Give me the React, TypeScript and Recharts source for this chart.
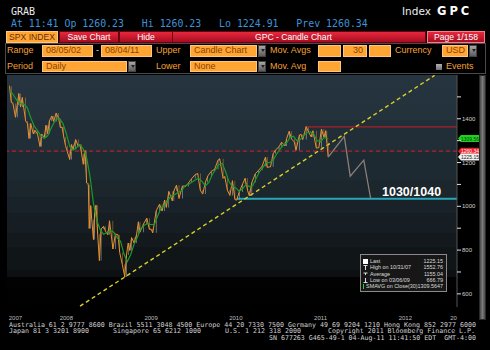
import React from 'react';
import { ComposedChart, Bar, Line, XAxis, YAxis, ReferenceLine, CartesianGrid, Cell } from 'recharts';

// ---- data (SPX) ----
const dates = [
  2007.83, 2007.85, 2007.87, 2007.9, 2007.92, 2007.94, 2007.96, 2007.98,
  2008.02, 2008.04, 2008.06, 2008.08, 2008.11, 2008.13, 2008.16, 2008.19, 2008.21, 2008.24, 2008.26, 2008.28,
  2008.3, 2008.33, 2008.35, 2008.38, 2008.41, 2008.43, 2008.45, 2008.47, 2008.49, 2008.51, 2008.54, 2008.56,
  2008.58, 2008.61, 2008.64, 2008.66, 2008.68, 2008.7, 2008.72, 2008.74, 2008.76, 2008.77, 2008.785, 2008.8,
  2008.82, 2008.835, 2008.85, 2008.87, 2008.89, 2008.91, 2008.94, 2008.96, 2008.99,
  2009.01, 2009.05, 2009.08, 2009.11, 2009.13, 2009.16, 2009.19, 2009.21, 2009.23, 2009.25, 2009.27, 2009.3,
  2009.33, 2009.35, 2009.37, 2009.41, 2009.45, 2009.48, 2009.5, 2009.52, 2009.56, 2009.6, 2009.63, 2009.66,
  2009.68, 2009.71, 2009.75, 2009.77, 2009.8, 2009.83, 2009.87, 2009.91, 2009.94, 2009.98,
  2010.02, 2010.05, 2010.08, 2010.11, 2010.14, 2010.17, 2010.21, 2010.25, 2010.29, 2010.31, 2010.35, 2010.37,
  2010.4, 2010.43, 2010.46, 2010.49, 2010.51, 2010.54, 2010.58, 2010.61, 2010.64, 2010.66, 2010.69, 2010.73,
  2010.77, 2010.81, 2010.85, 2010.87, 2010.91, 2010.94, 2010.97,
  2011.01, 2011.04, 2011.08, 2011.1, 2011.13, 2011.16, 2011.19, 2011.21, 2011.25, 2011.27, 2011.29, 2011.33,
  2011.36, 2011.39, 2011.41, 2011.45, 2011.48, 2011.51, 2011.54, 2011.56, 2011.575, 2011.59,
];
const closes = [
  1549, 1475, 1470, 1407, 1462, 1515, 1454, 1497,
  1390, 1380, 1310, 1378, 1331, 1348, 1330, 1273, 1330, 1316, 1370, 1332,
  1390, 1413, 1388, 1426, 1400, 1360, 1362, 1317, 1278, 1252, 1214, 1282,
  1260, 1305, 1275, 1283, 1242, 1192, 1255, 1106, 1099, 899, 1003, 940,
  848, 968, 1005, 873, 752, 896, 909, 888, 870,
  934, 805, 874, 869, 789, 735, 677, 778, 832, 798, 857, 832,
  873, 929, 882, 919, 946, 895, 896, 879, 979, 1010, 979, 1029,
  995, 1068, 1025, 1071, 1097, 1036, 1093, 1091, 1106, 1127,
  1145, 1150, 1074, 1056, 1109, 1139, 1160, 1169, 1211, 1217, 1128, 1136,
  1074, 1050, 1117, 1031, 1028, 1065, 1102, 1128, 1071, 1047, 1110, 1149,
  1165, 1183, 1225, 1178, 1181, 1240, 1258,
  1272, 1293, 1276, 1310, 1343, 1306, 1295, 1256, 1326, 1328, 1305, 1364,
  1338, 1317, 1345, 1266, 1268, 1353, 1316, 1345, 1292, 1225.15,
];
const firstOpen = 1552.76;

const smaDates = [
  2007.83, 2007.87, 2007.92, 2007.96, 2008.0, 2008.04, 2008.08, 2008.12, 2008.16, 2008.2, 2008.24, 2008.28,
  2008.33, 2008.38, 2008.42, 2008.46, 2008.5, 2008.54, 2008.58, 2008.62, 2008.66, 2008.7, 2008.74, 2008.78,
  2008.82, 2008.86, 2008.9, 2008.94, 2008.98, 2009.02, 2009.06, 2009.1, 2009.14, 2009.18, 2009.22, 2009.26,
  2009.3, 2009.34, 2009.38, 2009.42, 2009.46, 2009.5, 2009.54, 2009.58, 2009.62, 2009.66, 2009.7, 2009.74,
  2009.78, 2009.82, 2009.86, 2009.9, 2009.94, 2009.98, 2010.02, 2010.06, 2010.1, 2010.14, 2010.18, 2010.22,
  2010.26, 2010.3, 2010.34, 2010.38, 2010.42, 2010.46, 2010.5, 2010.54, 2010.58, 2010.62, 2010.66, 2010.7,
  2010.74, 2010.78, 2010.82, 2010.86, 2010.9, 2010.94, 2010.98, 2011.02, 2011.06, 2011.1, 2011.14, 2011.18,
  2011.22, 2011.26, 2011.3, 2011.34, 2011.38, 2011.42, 2011.46, 2011.5, 2011.54, 2011.59,
];
const smaValues = [
  1530, 1512, 1482, 1470, 1466, 1450, 1405, 1368, 1346, 1322, 1310, 1322,
  1365, 1398, 1402, 1378, 1332, 1275, 1257, 1268, 1282, 1262, 1222, 1135,
  1015, 935, 892, 872, 880, 890, 882, 856, 840, 782, 748, 780,
  828, 860, 898, 914, 922, 916, 918, 958, 993, 1006, 1030, 1048,
  1054, 1064, 1070, 1094, 1100, 1110, 1120, 1128, 1114, 1094, 1108, 1143,
  1168, 1190, 1196, 1158, 1112, 1090, 1084, 1068, 1080, 1100, 1090, 1094,
  1128, 1158, 1178, 1200, 1200, 1210, 1238, 1260, 1280, 1290, 1315, 1320,
  1300, 1305, 1322, 1336, 1340, 1330, 1300, 1294, 1314, 1309.56,
];

const projDates = [2011.59, 2011.78, 2011.85, 2012.01, 2012.09];
const projValues = [1225, 1320, 1138, 1211, 1038];

const trendStart = { x: 2008.662, y: 544 };
const trendEnd = { x: 2012.845, y: 1598 };
const resistanceLevel = 1363;
const resistanceFrom = 2011.32;
const supportLevel = 1035;
const supportFrom = 2010.51;
const prevLevel = 1252;

const xDomain = [2007.8, 2013.11];
const yDomain = [540, 1600];
const yTicks = [600, 700, 800, 900, 1000, 1100, 1200, 1300, 1400, 1500];
const yearTicks = [2007.8, 2008, 2009, 2010, 2011, 2012, 2013];
const yearLabelTicks = [2007.9, 2008.5, 2009.5, 2010.5, 2011.5, 2012.5, 2013.07];
const yearLabels = ['2007', '2008', '2009', '2010', '2011', '2012', '20'];

const candles = dates.map((t, i) => {
  const open = i === 0 ? firstOpen : closes[i - 1];
  const close = closes[i];
  return { t, close, range: [Math.min(open, close), Math.max(open, close)], up: close >= open };
});
const smaData = smaDates.map((t, i) => ({ t, v: smaValues[i] }));
const projData = projDates.map((t, i) => ({ t, v: projValues[i] }));

const sans = '"Liberation Sans", Arial, sans-serif';
const mono = '"DejaVu Sans Mono", monospace';

const YTick = (props: any) => {
  const { x, y, payload } = props;
  const major = payload.value % 200 === 0;
  if (!major) return null;
  return (
    <text x={x} y={y + 2} fontSize={6} fill="#d0d0d0" fontFamily={sans}>
      {payload.value}
    </text>
  );
};

const XLabelTick = (props: any) => {
  const { x, y, index } = props;
  return (
    <text x={x} y={y + 4.5} fontSize={6} fill="#bdbdbd" textAnchor="middle" fontFamily={sans}>
      {yearLabels[index]}
    </text>
  );
};

const PriceTag = (props: any) => {
  const { viewBox, bg, fg, text } = props;
  if (!viewBox) return null;
  const rx = viewBox.x + viewBox.width;
  const y = viewBox.y;
  return (
    <g>
      <polygon
        points={`${rx + 1},${y} ${rx + 4},${y - 3.5} ${rx + 22},${y - 3.5} ${rx + 22},${y + 3.5} ${rx + 4},${y + 3.5}`}
        fill={bg}
      />
      <text x={rx + 13} y={y + 2} fontSize={5} textAnchor="middle" fill={fg} fontFamily={sans}>
        {text}
      </text>
    </g>
  );
};

const Label = ({ x, y, h, children, color = '#f5a033' }: any) => (
  <div style={{ position: 'absolute', left: x, top: y, height: h, lineHeight: h + 'px', fontSize: 9, color, fontFamily: sans, whiteSpace: 'pre' }}>
    {children}
  </div>
);

const Field = ({ x, y, w, h, children, align = 'left' }: any) => (
  <div
    style={{
      position: 'absolute', left: x, top: y, width: w, height: h, background: '#ffa534', boxSizing: 'border-box',
      border: '1px solid #ffc77e', color: '#8a4200', fontSize: 9, lineHeight: h - 2 + 'px', paddingLeft: 3, paddingRight: 3,
      textAlign: align, fontFamily: sans, whiteSpace: 'pre', overflow: 'hidden',
    }}
  >
    {children}
  </div>
);

const Drop = ({ x, y, h }: any) => (
  <div style={{ position: 'absolute', left: x, top: y, width: 8, height: h, background: 'linear-gradient(#a8a8a8,#5c5c5c)', boxSizing: 'border-box', border: '1px solid #444' }}>
    <div style={{ position: 'absolute', left: 1.5, top: h / 2 - 2.5, width: 0, height: 0, borderLeft: '2px solid transparent', borderRight: '2px solid transparent', borderTop: '3px solid #222' }} />
  </div>
);

const RedBtn = ({ x, w, children, border = '#6a0010' }: any) => (
  <div
    style={{
      position: 'absolute', left: x, top: 30.5, width: w, height: 12, boxSizing: 'border-box', border: `1px solid ${border}`,
      background: 'linear-gradient(#e8283e,#a80c20)', color: '#ffffff', fontSize: 8.6, lineHeight: '10px', fontFamily: sans,
      textAlign: 'center', whiteSpace: 'pre',
    }}
  >
    {children}
  </div>
);

const Icon = ({ kind }: any) => {
  if (kind === 'last') return <svg width={5} height={5}><rect x={0} y={0} width={5} height={5} fill="#ffffff" /></svg>;
  if (kind === 'sma') return <svg width={5} height={5}><rect x={0} y={0} width={5} height={5} fill="#19e019" /></svg>;
  if (kind === 'high') return <svg width={5} height={5}><path d="M0.5 0.5H4.5M2.5 0.5V5" stroke="#ddd" strokeWidth={1} /></svg>;
  if (kind === 'low') return <svg width={5} height={5}><path d="M0.5 4.5H4.5M2.5 0V4.5" stroke="#ddd" strokeWidth={1} /></svg>;
  return <svg width={5} height={5}><path d="M0.5 2H4.5M2.5 2V4" stroke="#ddd" strokeWidth={1} /></svg>;
};

const legendRows = [
  { kind: 'last', label: 'Last', value: '1225.15' },
  { kind: 'high', label: 'High on 10/31/07', value: '1552.76' },
  { kind: 'avg', label: 'Average', value: '1155.04' },
  { kind: 'low', label: 'Low on 03/06/09', value: '666.79' },
  { kind: 'sma', label: 'SMAVG on Close(30)', value: '1309.5647' },
];

const footerTexts = [
  { text: 'Australia 61 2 9777 8600 Brazil 5511 3048 4500 Europe 44 20 7330 7500', x: 9, y: 326.5, w: 275 },
  { text: 'Germany 49 69 9204 1210', x: 288, y: 326.5, w: 92 },
  { text: 'Hong Kong 852 2977 6000', x: 384, y: 326.5, w: 92 },
  { text: 'Japan 81 3 3201 8900', x: 9, y: 333, w: 80 },
  { text: 'Singapore 65 6212 1000', x: 113, y: 333, w: 88 },
  { text: 'U.S. 1 212 318 2000', x: 225, y: 333, w: 76 },
  { text: 'Copyright 2011 Bloomberg Finance L.P.', x: 328, y: 333, w: 147 },
  { text: 'SN 677263 G465-49-1 04-Aug-11 11:41:50 EDT  GMT-4:00', x: 269, y: 339.5, w: 207 },
];

export default function App() {
  return (
    <div style={{ position: 'fixed', left: 0, top: 0, width: 490, height: 350, background: '#000', overflow: 'hidden' }}>
      <div style={{ position: 'absolute', left: 0, top: 0 }}>
        <ComposedChart width={490} height={350} data={candles} margin={{ top: 75, left: 7, right: 8, bottom: 29 }}>
          <defs>
            <linearGradient id="bgGrad" x1="0" y1="0" x2="0" y2="1">
              <stop offset="0" stopColor="#25343e" />
              <stop offset="0.194" stopColor="#24323c" />
              <stop offset="0.194" stopColor="#212e37" />
              <stop offset="0.332" stopColor="#212e37" />
              <stop offset="0.332" stopColor="#1e2a32" />
              <stop offset="0.453" stopColor="#1e2a32" />
              <stop offset="0.453" stopColor="#1b262d" />
              <stop offset="0.526" stopColor="#1b262d" />
              <stop offset="0.526" stopColor="#182228" />
              <stop offset="0.595" stopColor="#182228" />
              <stop offset="0.595" stopColor="#161e23" />
              <stop offset="0.681" stopColor="#161e23" />
              <stop offset="0.681" stopColor="#13191d" />
              <stop offset="0.741" stopColor="#13191d" />
              <stop offset="0.741" stopColor="#101518" />
              <stop offset="0.841" stopColor="#101518" />
              <stop offset="0.841" stopColor="#0c1012" />
              <stop offset="0.871" stopColor="#0c1012" />
              <stop offset="0.871" stopColor="#020202" />
              <stop offset="1" stopColor="#000000" />
            </linearGradient>
          </defs>
          <CartesianGrid xAxisId="a" horizontal={false} vertical={false} fill="url(#bgGrad)" stroke="none" />
          <XAxis
            xAxisId="a" dataKey="t" type="number" domain={xDomain} allowDataOverflow ticks={yearTicks}
            height={0} tick={false} tickSize={14} tickLine={{ stroke: '#8a8a8a' }}
            axisLine={{ stroke: '#9a9a9a', strokeDasharray: '1 2' }}
          />
          <XAxis
            xAxisId="b" dataKey="t" type="number" domain={xDomain} allowDataOverflow ticks={yearLabelTicks}
            height={14} tickLine={false} axisLine={false} tick={<XLabelTick />} interval={0}
          />
          <YAxis
            orientation="right" type="number" domain={yDomain} allowDataOverflow ticks={yTicks} width={25}
            tickSize={4} tickMargin={1} tickLine={{ stroke: '#e0e0e0' }} axisLine={{ stroke: '#555' }} tick={<YTick />} interval={0}
          />
          <ReferenceLine xAxisId="a" y={prevLevel} stroke="#b3202a" strokeWidth={1.2} strokeDasharray="4 3"
            label={<PriceTag bg="#e8202a" fg="#ffffff" text="1260.34" />} />
          <ReferenceLine xAxisId="a" segment={[{ x: resistanceFrom, y: resistanceLevel }, { x: xDomain[1], y: resistanceLevel }]}
            stroke="#a8202a" strokeWidth={1.2} ifOverflow="visible" />
          <ReferenceLine xAxisId="a" segment={[{ x: supportFrom, y: supportLevel }, { x: xDomain[1], y: supportLevel }]}
            stroke="#2aa8b8" strokeWidth={2} ifOverflow="visible" />
          <ReferenceLine xAxisId="a" segment={[trendStart, trendEnd]} stroke="#d8d02a" strokeWidth={1.4}
            strokeDasharray="4 3" ifOverflow="visible" />
          <Line xAxisId="a" dataKey="close" stroke="#e8902e" strokeWidth={1} dot={false} isAnimationActive={false} />
          <Bar xAxisId="a" dataKey="range" barSize={2} isAnimationActive={false}>
            {candles.map((c, i) => (
              <Cell key={i} fill={c.up ? '#eeeeee' : '#f5a342'} />
            ))}
          </Bar>
          <Line xAxisId="a" data={smaData} dataKey="v" stroke="#1c9a28" strokeWidth={1.2} dot={false} isAnimationActive={false} />
          <Line xAxisId="a" data={projData} dataKey="v" stroke="#8c7e78" strokeWidth={1.3} dot={false} isAnimationActive={false} />
          <ReferenceLine xAxisId="a" y={1309.56} stroke="none" label={<PriceTag bg="#1fd21f" fg="#0a3a0a" text="1309.56" />} />
          <ReferenceLine xAxisId="a" y={1225.15} stroke="none" label={<PriceTag bg="#f0f0f0" fg="#222" text="1225.15" />} />
        </ComposedChart>
      </div>

      {/* header */}
      <div style={{ position: 'absolute', left: 11, top: 7, fontFamily: mono, fontSize: 10, lineHeight: 1, color: '#ececec' }}>GRAB</div>
      <div style={{ position: 'absolute', left: 11, top: 19, fontFamily: mono, fontSize: 9.9, lineHeight: 1, color: '#3f92d8', whiteSpace: 'pre' }}>
        {'At 11:41 Op 1260.23   Hi 1260.23   Lo 1224.91   Prev 1260.34'}
      </div>
      <div style={{ position: 'absolute', left: 402, top: 6, fontFamily: '"DejaVu Sans", sans-serif', fontSize: 10.5, lineHeight: 1, color: '#ececec' }}>Index</div>
      <div style={{ position: 'absolute', left: 437, top: 5.5, fontFamily: '"DejaVu Sans", sans-serif', fontWeight: 'bold', fontSize: 11.5, lineHeight: 1, color: '#ffffff', letterSpacing: 3 }}>GPC</div>

      {/* button row */}
      <div style={{ position: 'absolute', left: 6, top: 30.5, width: 52, height: 12, boxSizing: 'border-box', border: '1px solid #ffc77e', background: '#ffa534', color: '#6a2c00', fontSize: 8.6, lineHeight: '10px', textAlign: 'center', fontFamily: sans }}>
        SPX INDEX
      </div>
      <RedBtn x={59} w={367}>{''}</RedBtn>
      <RedBtn x={59} w={60}>Save Chart</RedBtn>
      <RedBtn x={119} w={54}>Hide</RedBtn>
      <div style={{ position: 'absolute', left: 255, top: 30.5, height: 12, lineHeight: '12px', color: '#fff', fontSize: 8.6, fontFamily: sans }}>GPC - Candle Chart</div>
      <RedBtn x={427} w={58} border="#ff7a88">Page 1/158</RedBtn>

      {/* options panel */}
      <div style={{ position: 'absolute', left: 5, top: 43, width: 481, height: 31, boxSizing: 'border-box', border: '1px solid #4a4a4a' }} />
      <Label x={7} y={45} h={11.5}>Range</Label>
      <Field x={42} y={45} w={51} h={11.5}>08/05/02</Field>
      <Label x={96} y={45} h={11.5} color="#dddddd">-</Label>
      <Field x={101} y={45} w={51} h={11.5}>08/04/11</Field>
      <Label x={156} y={45} h={11.5}>Upper</Label>
      <Field x={190} y={45} w={67} h={11.5}>Candle Chart</Field>
      <Drop x={258} y={45} h={11.5} />
      <Label x={270} y={45} h={11.5}>Mov. Avgs</Label>
      <Field x={318} y={45} w={23} h={11.5}>{''}</Field>
      <Field x={343} y={45} w={24} h={11.5} align="right">30</Field>
      <Field x={369} y={45} w={22} h={11.5}>{''}</Field>
      <Label x={395} y={45} h={11.5}>Currency</Label>
      <Field x={442} y={45} w={26} h={11.5}>USD</Field>
      <Drop x={469} y={45} h={11.5} />

      <Label x={7} y={60.5} h={11.5}>Period</Label>
      <Field x={42} y={60.5} w={85} h={11.5}>Daily</Field>
      <Drop x={128} y={60.5} h={11.5} />
      <Label x={156} y={60.5} h={11.5}>Lower</Label>
      <Field x={190} y={60.5} w={67} h={11.5}>None</Field>
      <Drop x={258} y={60.5} h={11.5} />
      <Label x={270} y={60.5} h={11.5}>Mov. Avg</Label>
      <Field x={318} y={60.5} w={23} h={11.5}>{''}</Field>
      <div style={{ position: 'absolute', left: 436, top: 63.5, width: 6, height: 6, background: 'linear-gradient(#b0b0b0,#707070)' }} />
      <Label x={446} y={60.5} h={11.5}>Events</Label>

      {/* annotation */}
      <div style={{ position: 'absolute', left: 382, top: 186.4, fontFamily: sans, fontWeight: 'bold', fontSize: 12.5, lineHeight: 1, color: '#ffffff' }}>1030/1040</div>

      {/* legend */}
      <div style={{ position: 'absolute', left: 360, top: 254, width: 87, height: 38, boxSizing: 'border-box', border: '1px solid #8a8a8a', background: 'rgba(24,24,24,0.96)', paddingTop: 3, paddingLeft: 2, paddingRight: 3 }}>
        {legendRows.map((r) => (
          <div key={r.label} style={{ display: 'flex', alignItems: 'center', height: 6.3, fontFamily: sans, fontSize: 5.4, color: '#dcdcdc', whiteSpace: 'pre' }}>
            <Icon kind={r.kind} />
            <span style={{ marginLeft: 2, flex: 1 }}>{r.label}</span>
            <span>{r.value}</span>
          </div>
        ))}
      </div>

      {/* scrollbar */}
      <div style={{ position: 'absolute', left: 479, top: 75, width: 7, height: 245, boxSizing: 'border-box', border: '1px solid #2a2a2a', background: 'linear-gradient(90deg,#4a4a4a,#7a7a7a,#4a4a4a)' }} />

      {/* footer */}
      <svg style={{ position: 'absolute', left: 0, top: 0 }} width={490} height={350}>
        {footerTexts.map((f) => (
          <text key={f.text} x={f.x} y={f.y} textLength={f.w} lengthAdjust="spacingAndGlyphs"
            fontFamily={mono} fontSize={6.6} fill="#d2d2d2" style={{ whiteSpace: 'pre' }}>
            {f.text}
          </text>
        ))}
      </svg>
    </div>
  );
}
